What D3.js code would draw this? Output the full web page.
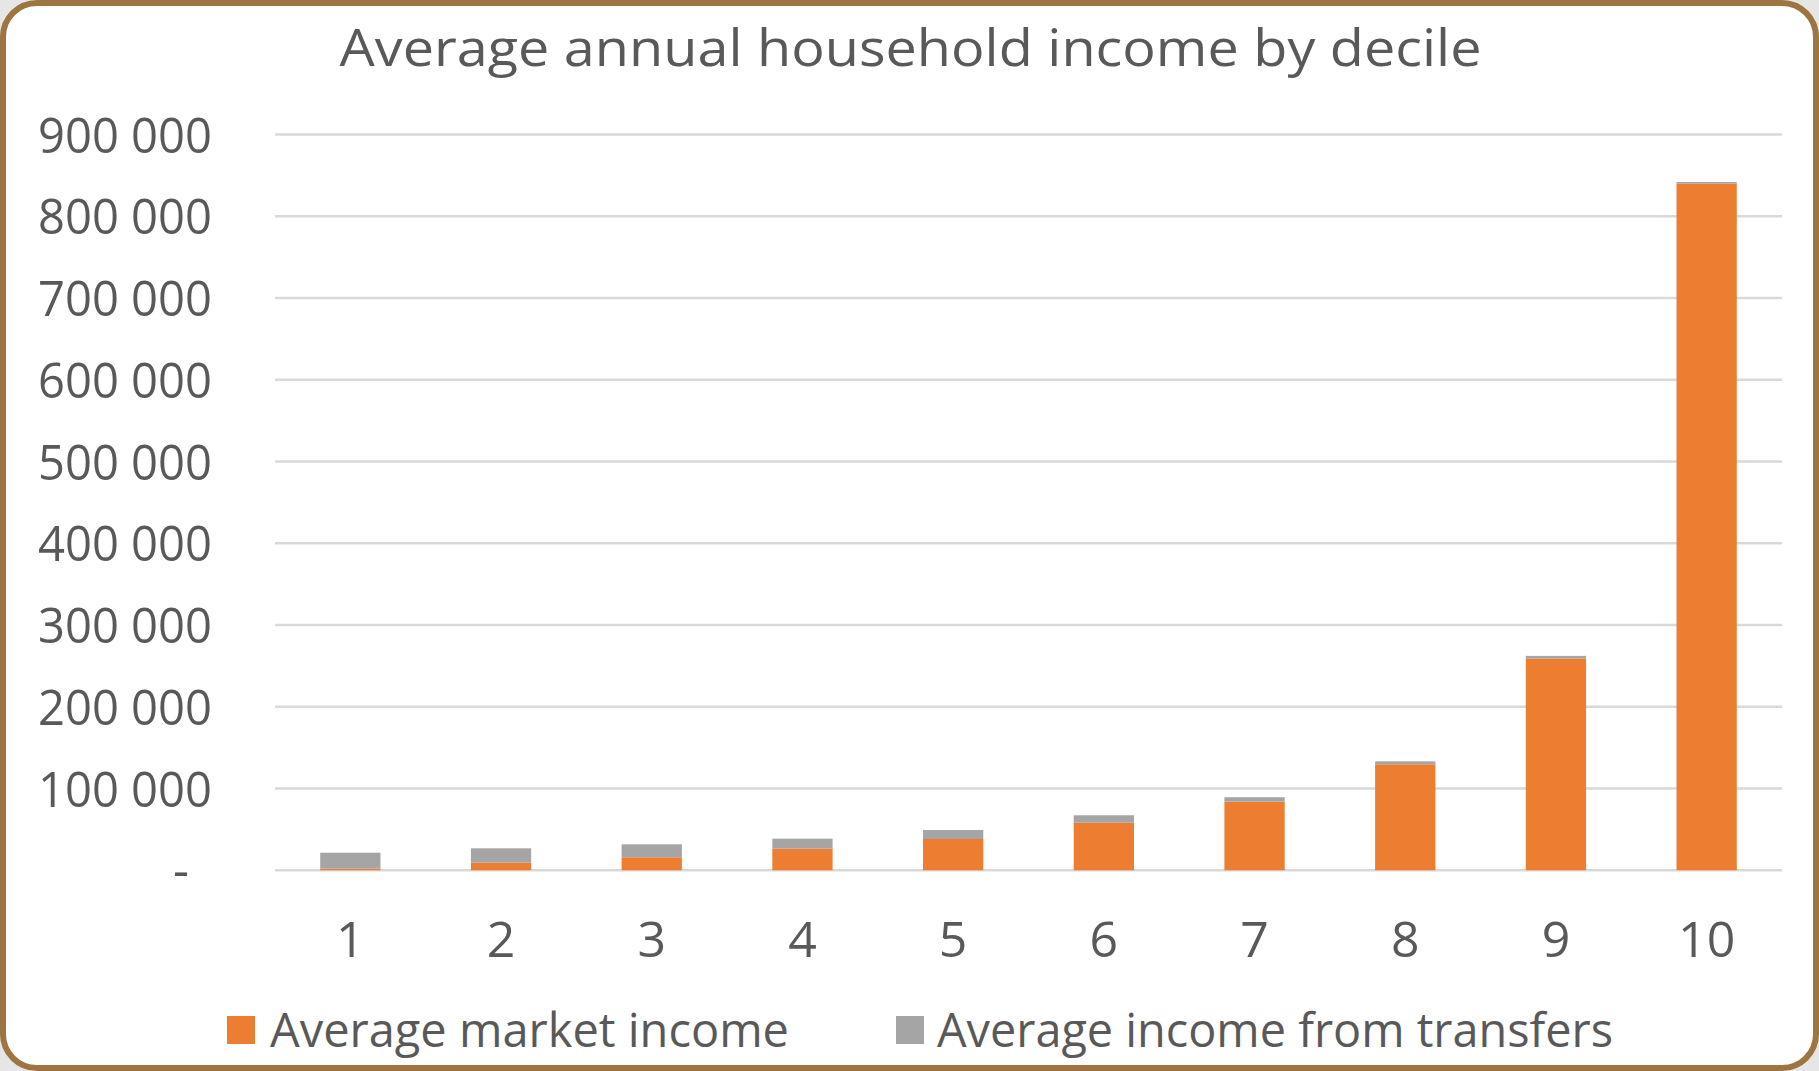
<!DOCTYPE html>
<html>
<head>
<meta charset="utf-8">
<script src="https://cdn.jsdelivr.net/npm/d3@7"></script>
<style>
  html, body { margin: 0; padding: 0; background: #e6e6e6; }
  svg { display: block; }
  text { font-family: "Open Sans", "Noto Sans", sans-serif; fill: #595959; }
</style>
</head>
<body>
<svg id="chart" width="1819" height="1071"></svg>
<script>
// Household income deciles
const deciles = ["1", "2", "3", "4", "5", "6", "7", "8", "9", "10"];
const marketIncome = [2000, 9300, 15900, 26400, 38300, 58200, 84000, 129700, 259000, 840000];
const transferIncome = [19500, 17600, 15900, 12300, 11000, 9100, 5400, 3600, 3300, 2000];
const seriesNames = ["Average market income", "Average income from transfers"];
const seriesColors = ["#ED7D31", "#A5A5A5"];
const yTicks = [0, 100000, 200000, 300000, 400000, 500000, 600000, 700000, 800000, 900000];
const chartTitle = "Average annual household income by decile";

const W = 1819, H = 1071;
const svg = d3.select("#chart");

// card with rounded brown frame
svg.append("rect")
  .attr("x", 3).attr("y", 3)
  .attr("width", W - 6).attr("height", H - 6)
  .attr("rx", 34).attr("ry", 34)
  .attr("fill", "#ffffff")
  .attr("stroke", "#9c7540")
  .attr("stroke-width", 6);

const plot = { left: 275, right: 1782, top: 134.6, bottom: 870.3 };

const x = d3.scaleBand()
  .domain(deciles)
  .range([plot.left, plot.right])
  .paddingInner(0.6)
  .paddingOuter(0.3);

const y = d3.scaleLinear()
  .domain([0, 900000])
  .range([plot.bottom, plot.top]);

// title
svg.append("text")
  .attr("x", (plot.left + plot.right) / 2 - 118)
  .attr("y", 66)
  .attr("text-anchor", "middle")
  .attr("font-size", 52)
  .attr("textLength", 1142)
  .attr("lengthAdjust", "spacingAndGlyphs")
  .text(chartTitle);

// horizontal gridlines
svg.append("g")
  .selectAll("line")
  .data(yTicks)
  .join("line")
  .attr("x1", plot.left).attr("x2", plot.right)
  .attr("y1", d => y(d)).attr("y2", d => y(d))
  .attr("stroke", "#d9d9d9")
  .attr("stroke-width", 2.5);

// y axis labels (accounting style: zero shown as a dash)
const fmt = d => d === 0 ? "-" : d3.format(",")(d).replace(/,/g, " ");
const yAxis = d3.axisLeft(y).tickValues(yTicks).tickFormat(fmt).tickSize(0).tickPadding(0);
const yg = svg.append("g")
  .attr("transform", `translate(212,0)`)
  .call(yAxis);
yg.select(".domain").remove();
yg.selectAll("text")
  .attr("font-size", 50)
  .attr("fill", "#595959")
  .attr("font-family", "\"Open Sans\", sans-serif")
  .attr("dy", "0.35em")
  .attr("dx", d => d === 0 ? -23 : 0)
  .each(function(d) { if (d !== 0) d3.select(this).attr("textLength", 174).attr("lengthAdjust", "spacingAndGlyphs"); });

// stacked bars
const rows = deciles.map((k, i) => ({ decile: k, market: marketIncome[i], transfers: transferIncome[i] }));
const stack = d3.stack().keys(["market", "transfers"]);
const layers = stack(rows);

svg.append("g")
  .selectAll("g")
  .data(layers)
  .join("g")
  .attr("fill", (d, i) => seriesColors[i])
  .selectAll("rect")
  .data(d => d)
  .join("rect")
  .attr("x", d => x(d.data.decile))
  .attr("width", x.bandwidth())
  .attr("y", d => y(d[1]))
  .attr("height", d => y(d[0]) - y(d[1]));

// x axis labels
const xAxis = d3.axisBottom(x).tickSize(0).tickPadding(0);
const xg = svg.append("g")
  .attr("transform", `translate(0,957)`)
  .call(xAxis);
xg.select(".domain").remove();
xg.selectAll("text")
  .attr("font-size", 50)
  .attr("fill", "#595959")
  .attr("font-family", "\"Open Sans\", sans-serif")
  .attr("dy", 0);

// legend
const legendItems = [
  { name: seriesNames[0], color: seriesColors[0], sx: 227, tx: 270, tl: 519 },
  { name: seriesNames[1], color: seriesColors[1], sx: 896, tx: 937, tl: 676 }
];
const lg = svg.append("g");
legendItems.forEach(it => {
  lg.append("rect")
    .attr("x", it.sx).attr("y", 1016)
    .attr("width", 28).attr("height", 28)
    .attr("fill", it.color);
  lg.append("text")
    .attr("x", it.tx).attr("y", 1047)
    .attr("font-size", 48)
    .attr("textLength", it.tl)
    .attr("lengthAdjust", "spacingAndGlyphs")
    .text(it.name);
});
</script>
</body>
</html>
